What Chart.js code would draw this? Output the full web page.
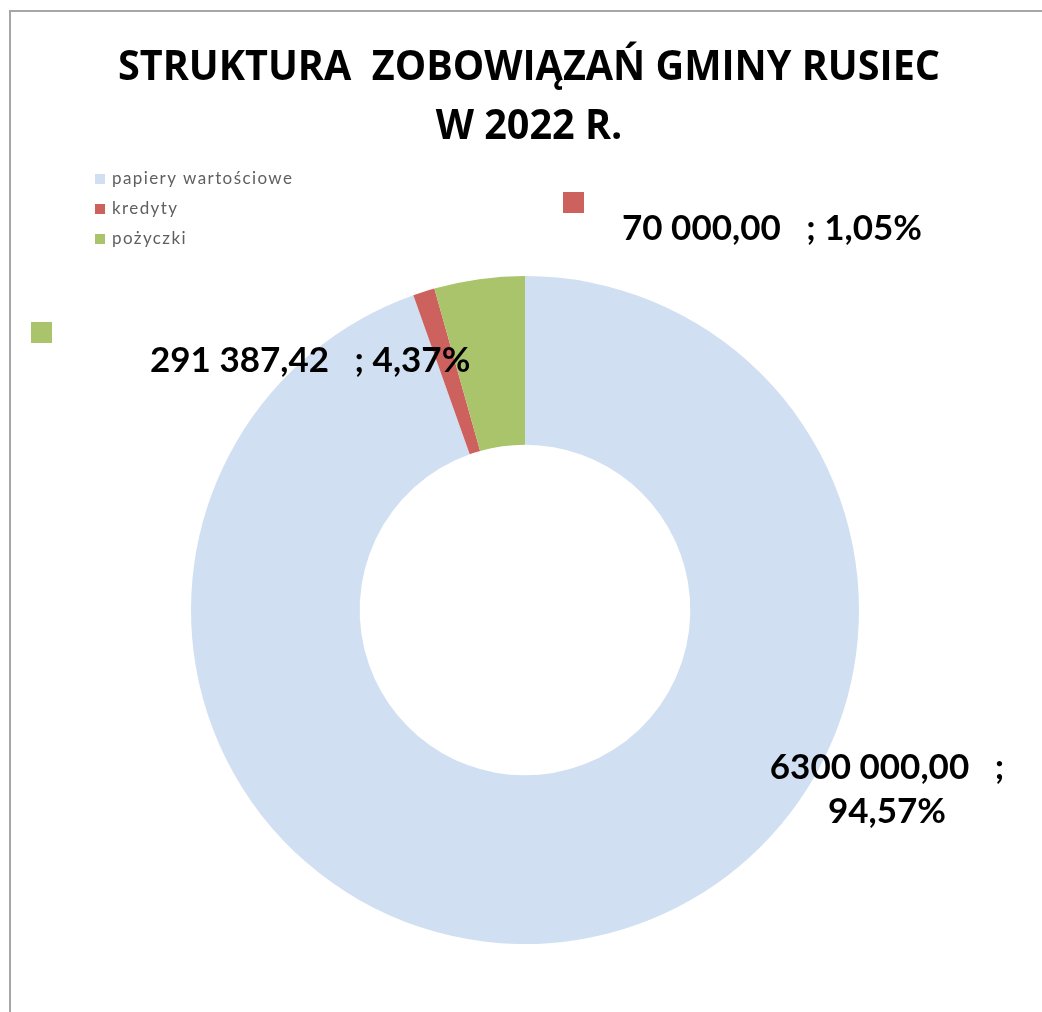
<!DOCTYPE html>
<html>
<head>
<meta charset="utf-8">
<script src="https://cdn.jsdelivr.net/npm/chart.js@4.4.1/dist/chart.umd.min.js"></script>
<style>
  html, body { margin: 0; padding: 0; background: #ffffff; }
  #wrap { width: 1042px; height: 1012px; position: relative; }
</style>
</head>
<body>
<div id="wrap"><canvas id="c" width="1042" height="1012"></canvas></div>
<script>
const titleLines = ['STRUKTURA  ZOBOWIĄZAŃ GMINY RUSIEC', 'W 2022 R.'];
const categories = ['papiery wartościowe', 'kredyty', 'pożyczki'];
const values = [6300000, 70000, 291387.42];
const valueLabels = ['6300 000,00', '70 000,00', '291 387,42'];
const colors = ['#D0E0F2', '#CD615E', '#A9C46B'];

const total = values.reduce((a, b) => a + b, 0);
const pctText = v => (v / total * 100).toFixed(2).replace('.', ',') + '%';

const frameLines = {
  id: 'frameLines',
  beforeDraw(chart) {
    const ctx = chart.ctx;
    ctx.save();
    ctx.fillStyle = '#ffffff';
    ctx.fillRect(0, 0, chart.width, chart.height);
    ctx.strokeStyle = '#A6A6A6';
    ctx.lineWidth = 2;
    ctx.beginPath();
    ctx.moveTo(10, chart.height);
    ctx.lineTo(10, 11);
    ctx.lineTo(chart.width, 11);
    ctx.stroke();
    ctx.restore();
  }
};

const headTitle = {
  id: 'headTitle',
  afterDraw(chart, args, opts) {
    const ctx = chart.ctx;
    ctx.save();
    ctx.font = 'bold 42px "Open Sans", Lato, sans-serif';
    ctx.fillStyle = '#000000';
    ctx.textBaseline = 'middle';
    ctx.textAlign = 'center';
    const w = ctx.measureText(opts.lines[0]).width;
    const sx = opts.width / w;
    opts.lines.forEach((line, k) => {
      ctx.save();
      ctx.translate(opts.x, opts.y + k * opts.gap);
      ctx.scale(sx, 1);
      ctx.fillText(line, 0, 0);
      ctx.restore();
    });
    ctx.restore();
  }
};

const sideLegend = {
  id: 'sideLegend',
  afterDraw(chart, args, opts) {
    const ctx = chart.ctx;
    const ds = chart.data.datasets[0];
    ctx.save();
    ctx.font = '17px Lato, "Noto Sans", sans-serif';
    if ('letterSpacing' in ctx) ctx.letterSpacing = '1.4px';
    ctx.textBaseline = 'middle';
    ctx.textAlign = 'left';
    chart.data.labels.forEach((lab, i) => {
      const cy = opts.y + i * opts.step;
      ctx.fillStyle = ds.backgroundColor[i];
      ctx.fillRect(opts.x, cy - 5, 10, 10);
      ctx.fillStyle = '#5f5f5f';
      ctx.fillText(lab, opts.x + 17, cy);
    });
    ctx.restore();
  }
};

const sliceLabels = {
  id: 'sliceLabels',
  afterDatasetsDraw(chart, args, opts) {
    const ctx = chart.ctx;
    const ds = chart.data.datasets[0];
    ctx.save();
    ctx.font = 'bold 35px Lato, "Noto Sans", sans-serif';
    ctx.fillStyle = '#000000';
    ctx.textBaseline = 'middle';
    opts.items.forEach(it => {
      const i = it.index;
      const v = ds.data[i];
      if (it.key) {
        ctx.fillStyle = ds.backgroundColor[i];
        ctx.fillRect(it.key[0], it.key[1], 21, 21);
        ctx.fillStyle = '#000000';
      }
      if (it.split) {
        ctx.textAlign = 'center';
        ctx.fillText(valueLabels[i] + '   ;', it.x, it.y);
        ctx.fillText(pctText(v), it.x, it.y + it.lineGap);
      } else {
        ctx.textAlign = 'left';
        ctx.fillText(valueLabels[i] + '   ; ' + pctText(v), it.x, it.y);
      }
    });
    ctx.restore();
  }
};

new Chart(document.getElementById('c'), {
  type: 'doughnut',
  data: {
    labels: categories,
    datasets: [{
      data: values,
      backgroundColor: colors,
      borderWidth: 0,
      hoverOffset: 0
    }]
  },
  plugins: [frameLines, headTitle, sideLegend, sliceLabels],
  options: {
    responsive: false,
    animation: false,
    devicePixelRatio: 1,
    cutout: '49.5%',
    layout: { padding: { left: 191, right: 183, top: 276, bottom: 68 } },
    plugins: {
      legend: { display: false },
      tooltip: { enabled: false },
      title: { display: false },
      headTitle: { lines: titleLines, x: 529, y: 68, gap: 59, width: 822 },
      sideLegend: { x: 95, y: 179, step: 30 },
      sliceLabels: {
        items: [
          { index: 0, x: 887, y: 768, split: true, lineGap: 44 },
          { index: 1, x: 622, y: 229, key: [563, 192] },
          { index: 2, x: 150, y: 361, key: [31, 322] }
        ]
      }
    }
  }
});
</script>
</body>
</html>
